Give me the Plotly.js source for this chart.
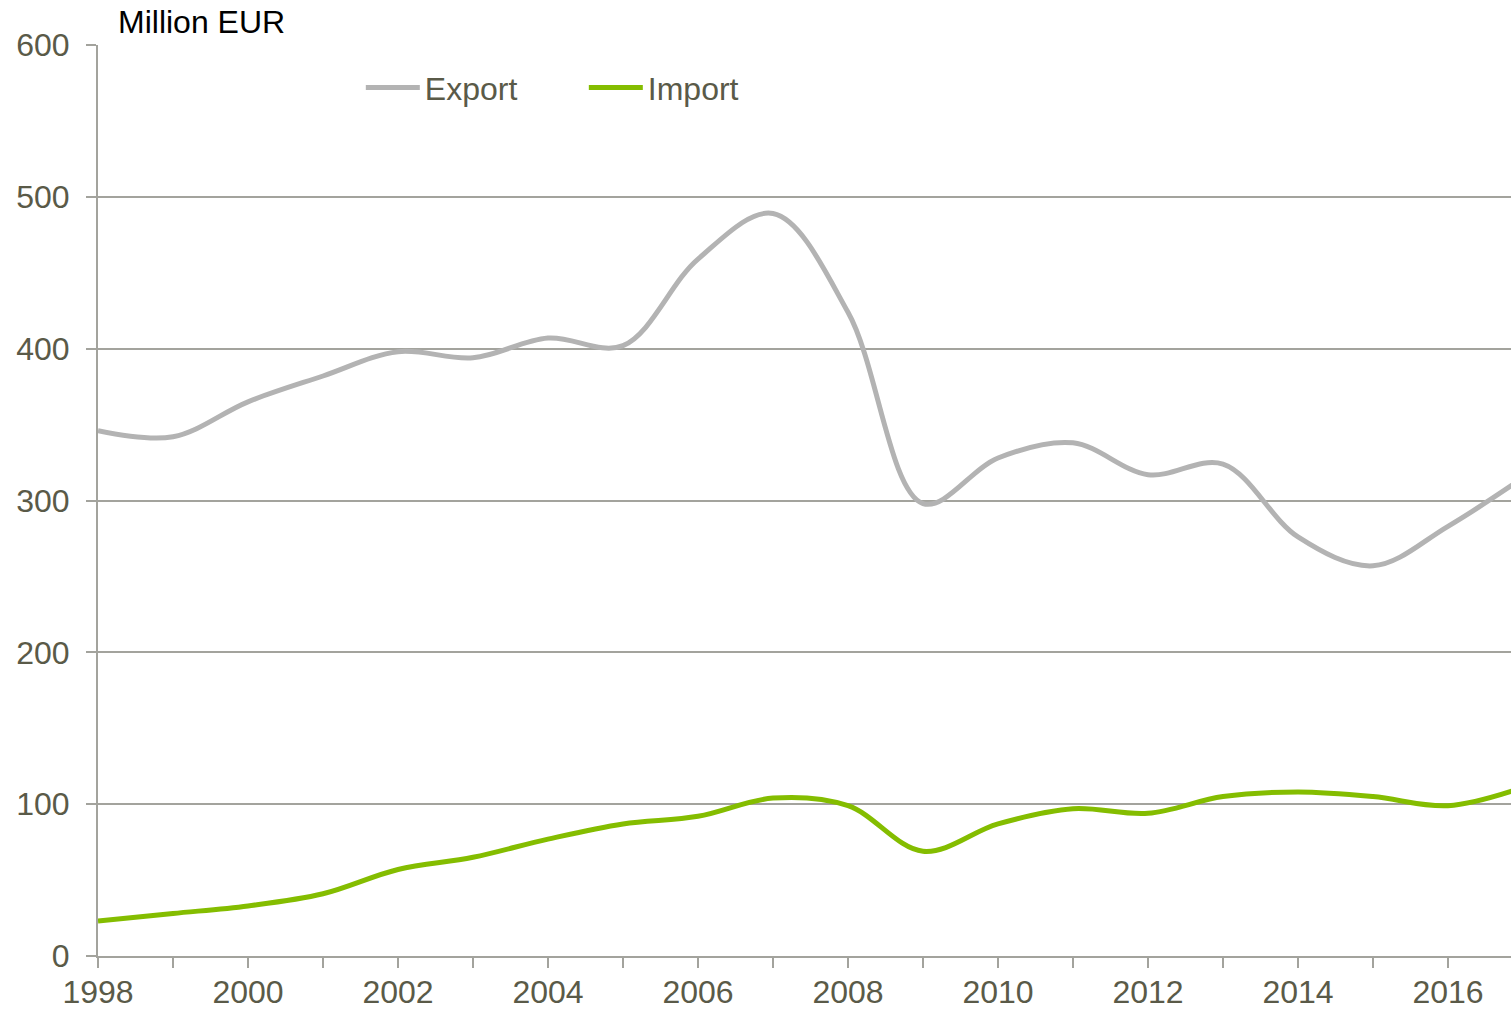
<!DOCTYPE html>
<html>
<head>
<meta charset="utf-8">
<script src="https://cdn.plot.ly/plotly-3.0.1.min.js"></script>
<style>html,body{margin:0;padding:0;background:#fff}#chart{width:1511px;height:1009px}</style>
</head>
<body>
<div id="chart"></div>
<script>
const years = [1998,1999,2000,2001,2002,2003,2004,2005,2006,2007,2008,2009,2010,2011,2012,2013,2014,2015,2016,2017];
const exportVals = [346,342,365,382,398,394,407,402,459,489,424,298,328,338,317,324,276,257,283,315];
const importVals = [23,28,33,41,57,65,77,87,92,104,99,69,87,97,94,105,108,105,99,111];
const yTicks = [0,100,200,300,400,500,600];
const xTicks = [1998,2000,2002,2004,2006,2008,2010,2012,2014,2016];

const textColor = '#5a5a48';
const gridColor = '#a3a39d';
const font = {family: 'Liberation Sans, Arial, sans-serif', size: 32, color: textColor};

const traces = [
  {x: years, y: exportVals, name: 'Export', type: 'scatter', mode: 'lines',
   line: {color: '#b3b3b3', width: 5, shape: 'spline', smoothing: 1}},
  {x: years, y: importVals, name: 'Import', type: 'scatter', mode: 'lines',
   line: {color: '#84bd00', width: 5, shape: 'spline', smoothing: 1}}
];

const layout = {
  width: 1511, height: 1009,
  margin: {l: 98, r: 0, t: 45, b: 53},
  paper_bgcolor: '#fff', plot_bgcolor: '#fff',
  font: font,
  showlegend: true,
  legend: {orientation: 'h', x: 0.186, y: 0.953, xanchor: 'left', yanchor: 'middle',
           font: font, itemwidth: 54, entrywidth: 154, bgcolor: 'rgba(0,0,0,0)'},
  title: {text: 'Million EUR', x: 118/1511, xref: 'container', xanchor: 'left',
          y: 1 - 22/1009, yref: 'container', yanchor: 'middle',
          font: {family: 'Liberation Sans, Arial, sans-serif', size: 32, color: '#000'}},
  xaxis: {range: [1998, 2016.84], tickvals: xTicks, ticktext: xTicks.map(String),
          showgrid: false, zeroline: false, showline: true, linecolor: gridColor, linewidth: 2,
          ticks: 'outside', ticklen: 10, tickcolor: gridColor, tickwidth: 2,
          minor: {dtick: 1, tick0: 1998, ticks: 'outside', ticklen: 10, tickcolor: gridColor, tickwidth: 2, showgrid: false},
          ticklabelstandoff: -3, tickfont: font, fixedrange: true},
  yaxis: {range: [0, 600], tickvals: yTicks, ticktext: yTicks.map(String),
          showgrid: true, gridcolor: gridColor, gridwidth: 2, zeroline: false,
          showline: true, linecolor: gridColor, linewidth: 2,
          ticks: 'outside', ticklen: 10, tickcolor: gridColor, tickwidth: 2,
          ticklabelstandoff: 10, tickfont: font, fixedrange: true}
};

Plotly.newPlot('chart', traces, layout, {displayModeBar: false, staticPlot: true});
</script>
</body>
</html>
